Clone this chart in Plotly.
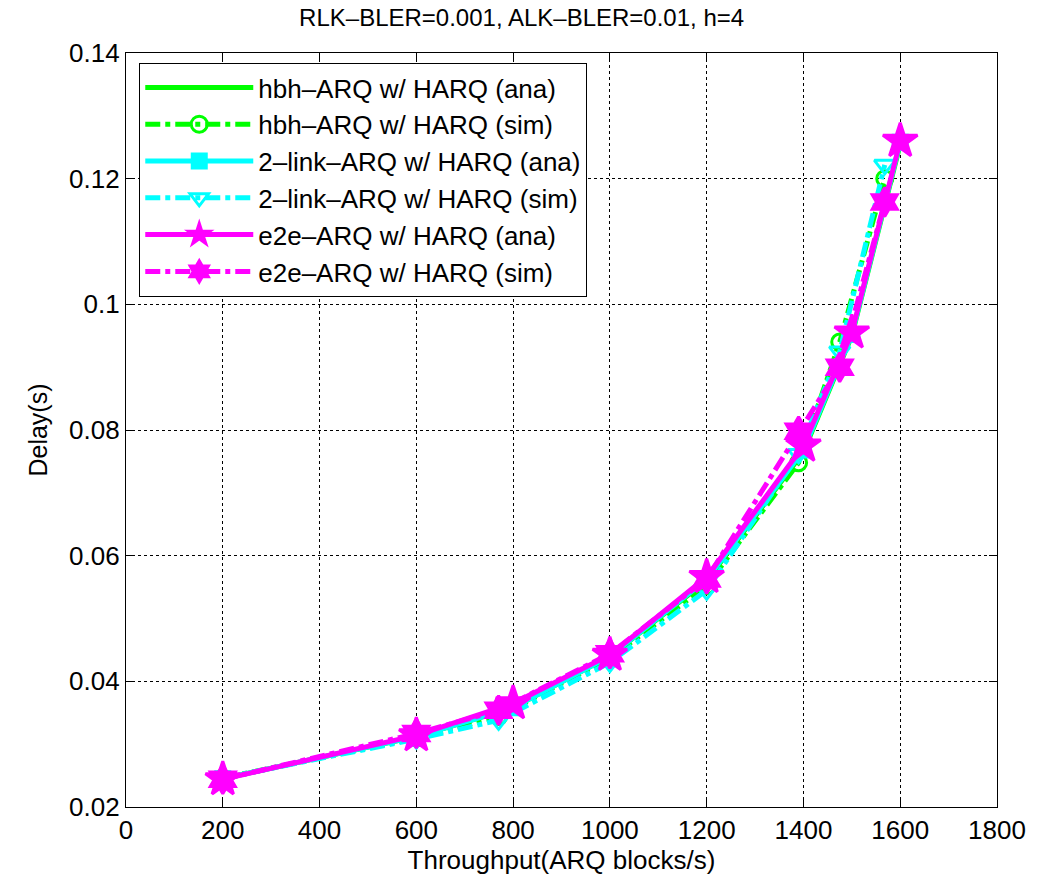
import plotly.graph_objects as go

# Data
x_ana = [200, 600, 800, 1000, 1200, 1400, 1500, 1600]
x_sim = [200, 600, 770, 1000, 1200, 1390, 1475, 1568]

hbh_ana = [0.0245, 0.0312, 0.0358, 0.0440, 0.0560, 0.0765, 0.0950, 0.1255]
hbh_sim = [0.0246, 0.0310, 0.0344, 0.0437, 0.0552, 0.0748, 0.0940, 0.1200]
twolink_ana = [0.0245, 0.0312, 0.0358, 0.0440, 0.0562, 0.0768, 0.0952, 0.1258]
twolink_sim = [0.0246, 0.0308, 0.0338, 0.0430, 0.0545, 0.0762, 0.0925, 0.1222]
e2e_ana = [0.0244, 0.0314, 0.0365, 0.0442, 0.0566, 0.0775, 0.0955, 0.1260]
e2e_sim = [0.0244, 0.0317, 0.0354, 0.0444, 0.0563, 0.0798, 0.0900, 0.1163]

names = [
    "hbh–ARQ w/ HARQ (ana)",
    "hbh–ARQ w/ HARQ (sim)",
    "2–link–ARQ w/ HARQ (ana)",
    "2–link–ARQ w/ HARQ (sim)",
    "e2e–ARQ w/ HARQ (ana)",
    "e2e–ARQ w/ HARQ (sim)",
]

GREEN = "#00ff00"
CYAN = "#00ffff"
MAGENTA = "#ff00ff"

series = [
    (x_ana, hbh_ana, GREEN, "solid", None, 0),
    (x_sim, hbh_sim, GREEN, "dashdot", "circle-open", 16),
    (x_ana, twolink_ana, CYAN, "solid", "square", 14),
    (x_sim, twolink_sim, CYAN, "dashdot", "triangle-down-open", 18),
    (x_ana, e2e_ana, MAGENTA, "solid", "star", 26),
    (x_sim, e2e_sim, MAGENTA, "dashdot", "hexagram", 22),
]

fig = go.Figure()
for (xs, ys, col, dash, sym, size), nm in zip(series, names):
    if sym is None:
        mode = "lines"
        marker = None
    else:
        mode = "lines+markers"
        marker = dict(symbol=sym, size=size, color=col,
                      line=dict(color=col, width=3))
    fig.add_trace(go.Scatter(
        x=xs, y=ys, name=nm, mode=mode,
        line=dict(color=col, width=5, dash=dash),
        marker=marker,
    ))

axis_common = dict(
    showline=True, linecolor="black", linewidth=1.2, mirror="ticks",
    ticks="inside", ticklen=8, tickcolor="black", tickwidth=1.2,
    showgrid=True, gridcolor="black", gridwidth=1, griddash="dot",
    zeroline=False, automargin=False,
    tickfont=dict(family="Liberation Sans, Arial", size=26, color="black"),
)

fig.update_xaxes(
    range=[0, 1800], tickmode="linear", tick0=0, dtick=200,
    title=dict(text="Throughput(ARQ blocks/s)", standoff=0,
               font=dict(family="Liberation Sans, Arial", size=26, color="black")),
    **axis_common,
)
fig.update_yaxes(
    range=[0.02, 0.14], tickmode="array",
    tickvals=[0.02, 0.04, 0.06, 0.08, 0.1, 0.12, 0.14],
    ticktext=["0.02", "0.04", "0.06", "0.08", "0.1", "0.12", "0.14"],
    title=dict(text="Delay(s)", standoff=14,
               font=dict(family="Liberation Sans, Arial", size=25, color="black")),
    **axis_common,
)

fig.update_layout(
    width=1037, height=879,
    margin=dict(l=126, r=40, t=53, b=72),
    paper_bgcolor="white", plot_bgcolor="white",
    title=dict(text="RLK–BLER=0.001, ALK–BLER=0.01, h=4",
               x=0.503, xanchor="center", y=0.98, yanchor="middle",
               font=dict(family="Liberation Sans, Arial", size=24, color="black")),
    legend=dict(
        x=0.015, y=0.987, xanchor="left", yanchor="top",
        bgcolor="white", bordercolor="black", borderwidth=1.2,
        font=dict(family="Liberation Sans, Arial", size=26, color="black"),
        itemwidth=108, tracegroupgap=0,
    ),
    showlegend=True,
)

fig.write_html("out.html",
               config={"displayModeBar": False},
               post_script="document.body.style.margin='0';document.body.style.padding='0';")
